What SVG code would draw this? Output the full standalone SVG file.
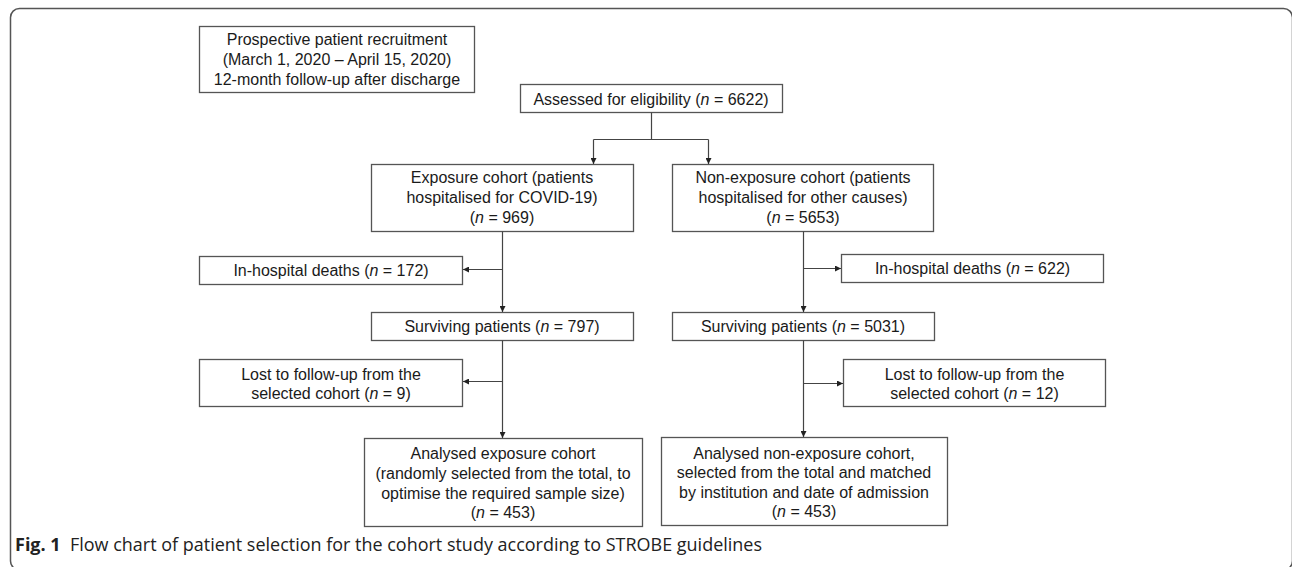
<svg xmlns="http://www.w3.org/2000/svg" width="1292" height="567" viewBox="0 0 1292 567">
<style>
.box{fill:#fff;stroke:#555;stroke-width:1.3}
.t{font-family:"Liberation Sans",Arial,sans-serif;font-size:16px;fill:#1a1a1a;text-anchor:middle}
.c{fill:none;stroke:#444;stroke-width:1.2}
.cap{font-family:"Open Sans","Noto Sans",sans-serif;font-size:18px;fill:#222}
</style>
<defs>
<marker id="ah" viewBox="0 0 8 8" refX="8" refY="4" markerWidth="6" markerHeight="6" markerUnits="userSpaceOnUse" orient="auto">
<path d="M0,0 L8,4 L0,8 z" fill="#222"/>
</marker>
</defs>
<rect x="10.5" y="8.5" width="1282" height="561.5" rx="9" fill="none" stroke="#555" stroke-width="1.5"/>

<g id="recruit">
<rect class="box" x="199.5" y="26.5" width="275" height="66"/>
<text class="t" x="337" y="45">Prospective patient recruitment</text>
<text class="t" x="337" y="65">(March 1, 2020 – April 15, 2020)</text>
<text class="t" x="337" y="84.5">12-month follow-up after discharge</text>
</g>
<g id="assessed">
<rect class="box" x="520.5" y="84.5" width="262" height="28"/>
<text class="t" x="651" y="104.5">Assessed for eligibility (<tspan font-style="italic">n</tspan> = 6622)</text>
</g>
<g id="exposure">
<rect class="box" x="371.5" y="164.5" width="262" height="67"/>
<text class="t" x="502" y="182.5">Exposure cohort (patients</text>
<text class="t" x="502" y="202.5">hospitalised for COVID-19)</text>
<text class="t" x="502" y="222.5">(<tspan font-style="italic">n</tspan> = 969)</text>
</g>
<g id="nonexposure">
<rect class="box" x="672.5" y="164.5" width="261" height="67"/>
<text class="t" x="803" y="182.5">Non-exposure cohort (patients</text>
<text class="t" x="803" y="202.5">hospitalised for other causes)</text>
<text class="t" x="803" y="222.5">(<tspan font-style="italic">n</tspan> = 5653)</text>
</g>
<g id="deaths-left">
<rect class="box" x="199.5" y="256.5" width="263" height="28"/>
<text class="t" x="331" y="276">In-hospital deaths (<tspan font-style="italic">n</tspan> = 172)</text>
</g>
<g id="deaths-right">
<rect class="box" x="841.5" y="254.5" width="262" height="28"/>
<text class="t" x="972.5" y="274">In-hospital deaths (<tspan font-style="italic">n</tspan> = 622)</text>
</g>
<g id="surv-left">
<rect class="box" x="371.5" y="312.5" width="262" height="28"/>
<text class="t" x="502" y="332">Surviving patients (<tspan font-style="italic">n</tspan> = 797)</text>
</g>
<g id="surv-right">
<rect class="box" x="672.5" y="312.5" width="262" height="28"/>
<text class="t" x="803" y="332">Surviving patients (<tspan font-style="italic">n</tspan> = 5031)</text>
</g>
<g id="lost-left">
<rect class="box" x="199.5" y="359.5" width="263" height="47"/>
<text class="t" x="331" y="379.5">Lost to follow-up from the</text>
<text class="t" x="331" y="399">selected cohort (<tspan font-style="italic">n</tspan> = 9)</text>
</g>
<g id="lost-right">
<rect class="box" x="843.5" y="359.5" width="262" height="47"/>
<text class="t" x="974.5" y="379.5">Lost to follow-up from the</text>
<text class="t" x="974.5" y="399">selected cohort (<tspan font-style="italic">n</tspan> = 12)</text>
</g>
<g id="analysed-left">
<rect class="box" x="364.5" y="438.5" width="278" height="88"/>
<text class="t" x="503" y="458.5">Analysed exposure cohort</text>
<text class="t" x="503" y="479">(randomly selected from the total, to</text>
<text class="t" x="503" y="498.5">optimise the required sample size)</text>
<text class="t" x="503" y="518">(<tspan font-style="italic">n</tspan> = 453)</text>
</g>
<g id="analysed-right">
<rect class="box" x="661.5" y="437.5" width="286" height="88"/>
<text class="t" x="804" y="458.5">Analysed non-exposure cohort,</text>
<text class="t" x="804" y="478">selected from the total and matched</text>
<text class="t" x="804" y="497.5">by institution and date of admission</text>
<text class="t" x="804" y="517">(<tspan font-style="italic">n</tspan> = 453)</text>
</g>

<g id="connectors">
<path class="c" d="M651.5,112.5 V139.5 M593.5,139.5 H708.5"/>
<path class="c" d="M593.5,139.5 V164" marker-end="url(#ah)"/>
<path class="c" d="M708.5,139.5 V164" marker-end="url(#ah)"/>
<path class="c" d="M502.5,231.5 V312" marker-end="url(#ah)"/>
<path class="c" d="M502.5,269.5 H463" marker-end="url(#ah)"/>
<path class="c" d="M502.5,340.5 V438" marker-end="url(#ah)"/>
<path class="c" d="M502.5,381.5 H463" marker-end="url(#ah)"/>
<path class="c" d="M803.5,231.5 V312" marker-end="url(#ah)"/>
<path class="c" d="M803.5,268.5 H841" marker-end="url(#ah)"/>
<path class="c" d="M803.5,340.5 V437" marker-end="url(#ah)"/>
<path class="c" d="M803.5,383.5 H843" marker-end="url(#ah)"/>
</g>

<g id="caption">
<text class="cap" x="15" y="551" font-weight="bold">Fig. 1</text>
<text class="cap" x="70" y="551" textLength="692" lengthAdjust="spacingAndGlyphs">Flow chart of patient selection for the cohort study according to STROBE guidelines</text>
</g>
</svg>
